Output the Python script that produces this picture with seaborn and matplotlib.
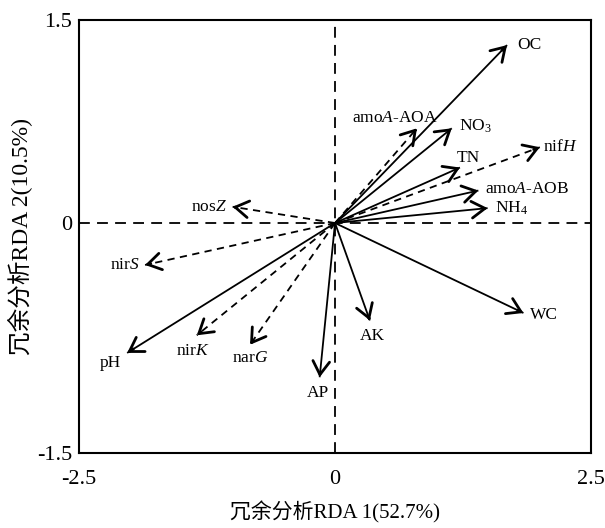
import seaborn as sns
import pandas as pd
import matplotlib.pyplot as plt

# arrow tips (RDA 1, RDA 2)
names = ["OC", "amoA-AOA", "NO3", "nifH", "TN", "amoA-AOB", "NH4", "nosZ",
         "nirS", "pH", "nirK", "narG", "AP", "AK", "WC"]
rda1 = [1.68, 0.80, 1.14, 2.00, 1.22, 1.40, 1.49, -1.00,
        -1.855, -2.03, -1.35, -0.83, -0.15, 0.34, 1.84]
rda2 = [1.315, 0.70, 0.70, 0.56, 0.41, 0.24, 0.11, 0.12,
        -0.31, -0.96, -0.83, -0.90, -1.14, -0.72, -0.665]
kind = ["solid", "dashed", "solid", "dashed", "solid", "solid", "solid", "dashed",
        "dashed", "solid", "dashed", "dashed", "solid", "solid", "solid"]
labels = [r"OC", r"amo$\mathit{A}$-AOA", r"NO$_3$", r"nif$\mathit{H}$", r"TN",
          r"amo$\mathit{A}$-AOB", r"NH$_4$", r"nos$\mathit{Z}$", r"nir$\mathit{S}$",
          r"pH", r"nir$\mathit{K}$", r"nar$\mathit{G}$", r"AP", r"AK", r"WC"]

# label placement (pixel offset from the tip, alignment)
label_pos = {
    "OC": (10, 0, "left"), "amoA-AOA": (-22, 10, "center"), "NO3": (7, 2, "left"),
    "nifH": (3, 0, "left"), "TN": (8, 10, "center"), "amoA-AOB": (7, 2, "left"),
    "NH4": (7, 0, "left"), "nosZ": (-6, 0, "right"), "nirS": (-5, 0, "right"),
    "pH": (-17, -10, "center"), "nirK": (-4, -16, "center"), "narG": (0, -13, "center"),
    "AP": (-2, -16, "center"), "AK": (3, -16, "center"), "WC": (7, -2, "left"),
}

sns.set_theme(style="white")
plt.rcParams["font.family"] = ["Liberation Serif", "Noto Sans CJK SC"]
plt.rcParams["mathtext.fontset"] = "custom"
plt.rcParams["mathtext.rm"] = "Liberation Serif"
plt.rcParams["mathtext.it"] = "Liberation Serif:italic"

rows = []
for n, x, y, k in zip(names, rda1, rda2, kind):
    rows.append({"name": n, "RDA1": 0.0, "RDA2": 0.0, "kind": k})
    rows.append({"name": n, "RDA1": x, "RDA2": y, "kind": k})
df = pd.DataFrame(rows)

fig = plt.figure(figsize=(6.05, 5.28), dpi=100)
ax = fig.add_axes([0.1306, 0.142, 0.8463, 0.820])

ax.axhline(0, color="black", lw=1.3, ls=(0, (6, 4)), zorder=1)
ax.axvline(0, color="black", lw=1.3, ls=(0, (6, 4)), zorder=1)

sns.lineplot(data=df, x="RDA1", y="RDA2", units="name", estimator=None, sort=False,
             style="kind", style_order=["solid", "dashed"], dashes=[(1, 0), (4, 3)],
             color="black", lw=1.3, legend=False, ax=ax, zorder=3)

for n, x, y, lab in zip(names, rda1, rda2, labels):
    ax.annotate("", xy=(x, y), xytext=(x * 0.97, y * 0.97),
                arrowprops=dict(arrowstyle="->,head_length=0.8,head_width=0.5",
                                mutation_scale=12, lw=2.0, color="black",
                                shrinkA=0, shrinkB=0), zorder=4)
    dx, dy, ha = label_pos[n]
    ax.annotate(lab, xy=(x, y), xytext=(dx, dy), textcoords="offset pixels",
                ha=ha, va="center", fontsize=12.5, color="black", zorder=5)

ax.set_xlim(-2.5, 2.5)
ax.set_ylim(-1.7, 1.5)
ax.set_xticks([-2.5, 0, 2.5], labels=["-2.5", "0", "2.5"])
ax.set_yticks([-1.7, 0, 1.5], labels=["-1.5", "0", "1.5"])
ax.tick_params(length=0, labelsize=16, colors="black")
ax.tick_params(axis="x", pad=12)
ax.tick_params(axis="y", pad=5)
for s in ax.spines.values():
    s.set_color("black")
    s.set_linewidth(1.5)

ax.set_xlabel("冗余分析RDA 1(52.7%)", fontsize=15, color="black", labelpad=9)
ax.set_ylabel("冗余分析RDA 2(10.5%)", fontsize=17, color="black", labelpad=3)

fig.savefig("out.png", dpi=100)
